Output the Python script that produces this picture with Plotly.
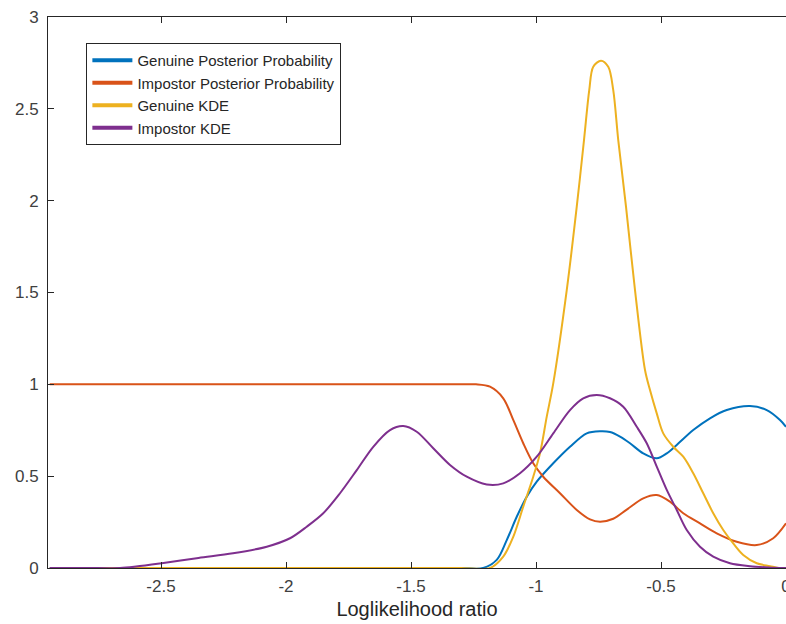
import plotly.graph_objects as go

# Genuine KDE
gen_kde_x = [-2.945, -2.5, -2.0, -1.5, -1.3, -1.184, -1.131, -1.091, -1.051, -1.011,
             -0.984, -0.957, -0.931, -0.877, -0.837, -0.808, -0.787, -0.771, -0.74,
             -0.711, -0.691, -0.671, -0.64, -0.604, -0.564, -0.544, -0.517, -0.491, -0.451,
             -0.411, -0.371, -0.331, -0.291, -0.251, -0.211, -0.171, -0.117, -0.064, -0.03, 0.0]
gen_kde_y = [0.0, 0.0, 0.0, 0.0, 0.0, 0.0, 0.062, 0.17, 0.334, 0.497,
             0.624, 0.824, 1.005, 1.513, 1.967, 2.33, 2.602, 2.729, 2.762,
             2.729, 2.602, 2.33, 1.967, 1.513, 1.078, 0.969, 0.842, 0.733, 0.66,
             0.606, 0.516, 0.407, 0.298, 0.207, 0.134, 0.071, 0.026, 0.01, 0.0, 0.0]

# Genuine posterior probability
gen_post_x = [-2.945, -2.5, -2.0, -1.5, -1.3, -1.211, -1.157, -1.117, -1.077, -1.037,
              -0.997, -0.931, -0.864, -0.797, -0.742, -0.704, -0.664, -0.624, -0.571, -0.517,
              -0.477, -0.437, -0.371, -0.304, -0.237, -0.144, -0.077, -0.024, 0.0]
gen_post_y = [0.0, 0.0, 0.0, 0.0, 0.0, 0.0, 0.044, 0.152, 0.279, 0.388,
              0.47, 0.57, 0.66, 0.733, 0.744, 0.74, 0.715, 0.679, 0.624, 0.597,
              0.624, 0.67, 0.751, 0.815, 0.86, 0.882, 0.86, 0.806, 0.769]

# Impostor posterior probability
imp_post_x = [-2.945, -2.5, -2.0, -1.5, -1.3, -1.24, -1.184, -1.131, -1.091, -1.051,
              -1.011, -0.971, -0.904, -0.837, -0.784, -0.744, -0.691, -0.637, -0.571, -0.517,
              -0.464, -0.411, -0.344, -0.277, -0.197, -0.117, -0.051, 0.0]
imp_post_y = [1.0, 1.0, 1.0, 1.0, 1.0, 1.0, 0.987, 0.924, 0.806, 0.679,
              0.57, 0.497, 0.407, 0.316, 0.265, 0.252, 0.268, 0.318, 0.379, 0.397,
              0.361, 0.298, 0.243, 0.189, 0.143, 0.125, 0.162, 0.243]

# Impostor KDE
imp_kde_x = [-2.945, -2.8, -2.664, -2.6, -2.504, -2.35, -2.212, -2.077, -1.984, -1.917,
             -1.851, -1.784, -1.717, -1.651, -1.584, -1.531, -1.477, -1.411, -1.344, -1.277,
             -1.197, -1.131, -1.064, -0.997, -0.931, -0.864, -0.811, -0.757, -0.704, -0.651,
             -0.597, -0.557, -0.517, -0.477, -0.437, -0.397, -0.344, -0.291, -0.224, -0.144,
             -0.07, 0.0]
imp_kde_y = [0.0, 0.0, 0.0, 0.008, 0.025, 0.055, 0.08, 0.116, 0.162, 0.225,
             0.298, 0.407, 0.533, 0.66, 0.751, 0.773, 0.742, 0.652, 0.561, 0.497,
             0.455, 0.461, 0.516, 0.606, 0.733, 0.86, 0.924, 0.942, 0.924, 0.878,
             0.769, 0.679, 0.552, 0.425, 0.316, 0.207, 0.116, 0.062, 0.026, 0.01,
             0.003, 0.0]

series_names = ["Genuine Posterior Probability", "Impostor Posterior Probability",
                "Genuine KDE", "Impostor KDE"]
series_colors = ["#0072BD", "#D95319", "#EDB120", "#7E2F8E"]

x_tick_vals = [-2.5, -2, -1.5, -1, -0.5, 0]
x_tick_text = ["-2.5", "-2", "-1.5", "-1", "-0.5", "0"]
y_tick_vals = [0, 0.5, 1, 1.5, 2, 2.5, 3]
y_tick_text = ["0", "0.5", "1", "1.5", "2", "2.5", "3"]

fig = go.Figure()

# draw order: genuine posterior, impostor posterior, genuine KDE, impostor KDE
curves = [(gen_post_x, gen_post_y), (imp_post_x, imp_post_y),
          (gen_kde_x, gen_kde_y), (imp_kde_x, imp_kde_y)]
for (xs, ys), color in zip(curves, series_colors):
    fig.add_trace(go.Scatter(x=xs, y=ys, mode="lines", showlegend=False,
                             line=dict(color=color, width=2, shape="spline", smoothing=0.9)))

# legend entries with thicker sample lines
for name, color in zip(series_names, series_colors):
    fig.add_trace(go.Scatter(x=[None], y=[None], mode="lines", name=name,
                             line=dict(color=color, width=4)))

axis_font = dict(family="Liberation Sans, Arial, sans-serif", size=17, color="#404040")

fig.update_layout(
    width=786, height=624,
    margin=dict(l=48, r=0, t=17, b=56, autoexpand=False),
    plot_bgcolor="white", paper_bgcolor="white",
    font=dict(family="Liberation Sans, Arial, sans-serif", color="#262626"),
    legend=dict(x=0.052, y=0.953, xanchor="left", yanchor="top",
                bordercolor="#262626", borderwidth=1, bgcolor="white",
                font=dict(size=15, color="#262626"), itemwidth=40,
                tracegroupgap=0),
    xaxis=dict(range=[-2.952, 0], tickvals=x_tick_vals, ticktext=x_tick_text,
               ticks="inside", ticklen=6, tickcolor="#262626",
               showline=True, linecolor="#262626", linewidth=1, mirror="ticks",
               showgrid=False, zeroline=False, tickfont=axis_font,
               ticklabelstandoff=3, ticklabeloverflow="allow", automargin=False,
               title=dict(text="Loglikelihood ratio", standoff=6,
                          font=dict(size=20, color="#262626"))),
    yaxis=dict(range=[0, 3], tickvals=y_tick_vals, ticktext=y_tick_text,
               ticks="inside", ticklen=6, tickcolor="#262626",
               showline=True, linecolor="#262626", linewidth=1,
               showgrid=False, zeroline=False, tickfont=axis_font,
               ticklabelstandoff=5, automargin=False),
)

fig.write_html("out.html")
